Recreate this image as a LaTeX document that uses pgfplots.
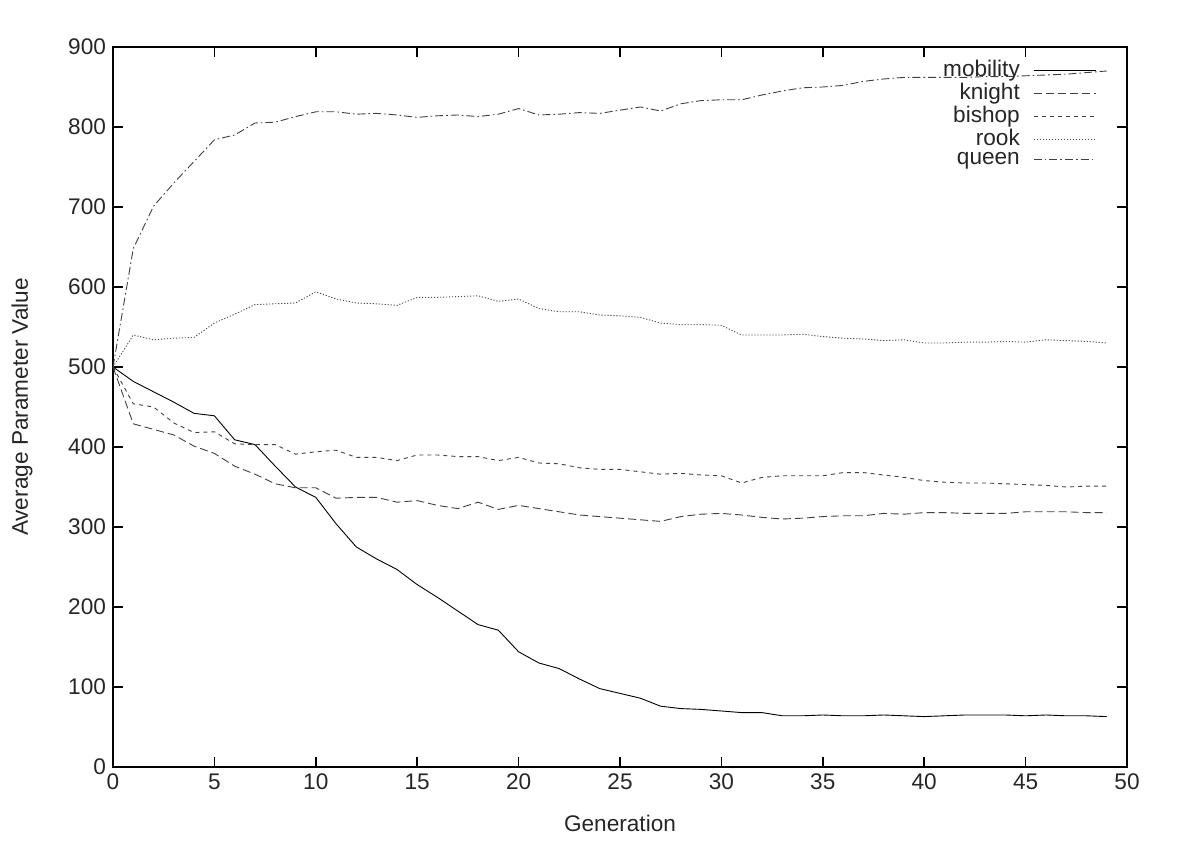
\documentclass[border=0pt]{standalone}
\usepackage{fontspec}
\setmainfont{Liberation Sans}
\usepackage{pgfplots}
\pgfplotsset{compat=1.18}

\pgfplotstableread{
gen mobility knight bishop rook queen
0  500 500 500 500 500
1  482 429 454 540 648
2  469 422 450 534 701
3  456 415 430 536 730
4  442 401 418 537 757
5  439 392 419 555 784
6  409 376 404 566 790
7  403 366 403 578 805
8  376 354 403 579 806
9  350 349 391 580 813
10 337 349 394 594 819
11 304 336 396 585 819
12 275 337 387 580 816
13 260 337 387 579 817
14 247 331 383 577 815
15 228 333 390 587 812
16 212 327 390 587 814
17 195 323 388 588 815
18 178 331 388 589 813
19 171 322 383 582 816
20 144 327 387 585 823
21 130 323 380 573 815
22 123 319 379 569 816
23 110 315 374 569 818
24 98  313 372 565 817
25 92  311 372 564 821
26 86  309 369 562 825
27 76  307 366 555 820
28 73  313 367 553 829
29 72  316 365 553 833
30 70  317 364 552 834
31 68  315 355 540 834
32 68  312 362 540 840
33 64  310 364 540 845
34 64  311 364 541 849
35 65  313 364 538 850
36 64  314 368 536 852
37 64  314 368 535 857
38 65  317 365 533 860
39 64  316 362 534 862
40 63  318 358 530 862
41 64  318 356 530 862
42 65  317 355 531 862
43 65  317 355 531 863
44 65  317 354 532 863
45 64  319 353 531 864
46 65  319 352 534 865
47 64  319 350 533 866
48 64  318 351 532 868
49 63  318 351 530 870
}\datatable

\begin{document}
\begin{tikzpicture}
\begin{axis}[
  scale only axis,
  width=507pt, height=360pt,
  xmin=0, xmax=50, ymin=0, ymax=900,
  xtick distance=5, ytick distance=100,
  tick align=inside,
  major tick length=5pt,
  axis line style={line width=0.8pt},
  every tick/.style={line width=0.8pt, black},
  /pgf/number format/assume math mode=true,
  ticklabel style={font=\fontsize{11.3}{13}\selectfont, text=black!85},
  label style={font=\fontsize{11.3}{13}\selectfont, text=black!85},
  xlabel={Generation},
  ylabel={Average Parameter Value},
  xlabel style={yshift=-5.5pt},
  ylabel style={yshift=11pt},
  legend style={draw=none, fill=none, at={(0.976,0.993)}, anchor=north east,
    font=\fontsize{11.3}{11.3}\selectfont, row sep=-2.2pt, text=black!85},
  legend cell align=right,
  legend plot pos=right,
  legend image code/.code={\path[draw=none] (0pt,0pt) -- (5pt,0pt); \draw[#1] (5pt,0pt) -- (36pt,0pt);},
  every axis plot/.append style={line width=0.45pt},
]
\addplot[black, solid] table[x=gen, y=mobility] {\datatable};
\addplot[black!75, dash pattern=on 4pt off 2pt] table[x=gen, y=knight] {\datatable};
\addplot[black!75, dash pattern=on 2pt off 2pt] table[x=gen, y=bishop] {\datatable};
\addplot[black!70, dash pattern=on 0.6pt off 0.9pt] table[x=gen, y=rook] {\datatable};
\addplot[black!75, dash pattern=on 4pt off 1.5pt on 0.8pt off 1.5pt] table[x=gen, y=queen] {\datatable};
\legend{mobility, knight, bishop, rook, queen}
\end{axis}
\useasboundingbox ([xshift=-56.5pt, yshift=-45.5pt]current axis.south west) rectangle ([xshift=28.5pt, yshift=23.5pt]current axis.north east);
\end{tikzpicture}
\end{document}
